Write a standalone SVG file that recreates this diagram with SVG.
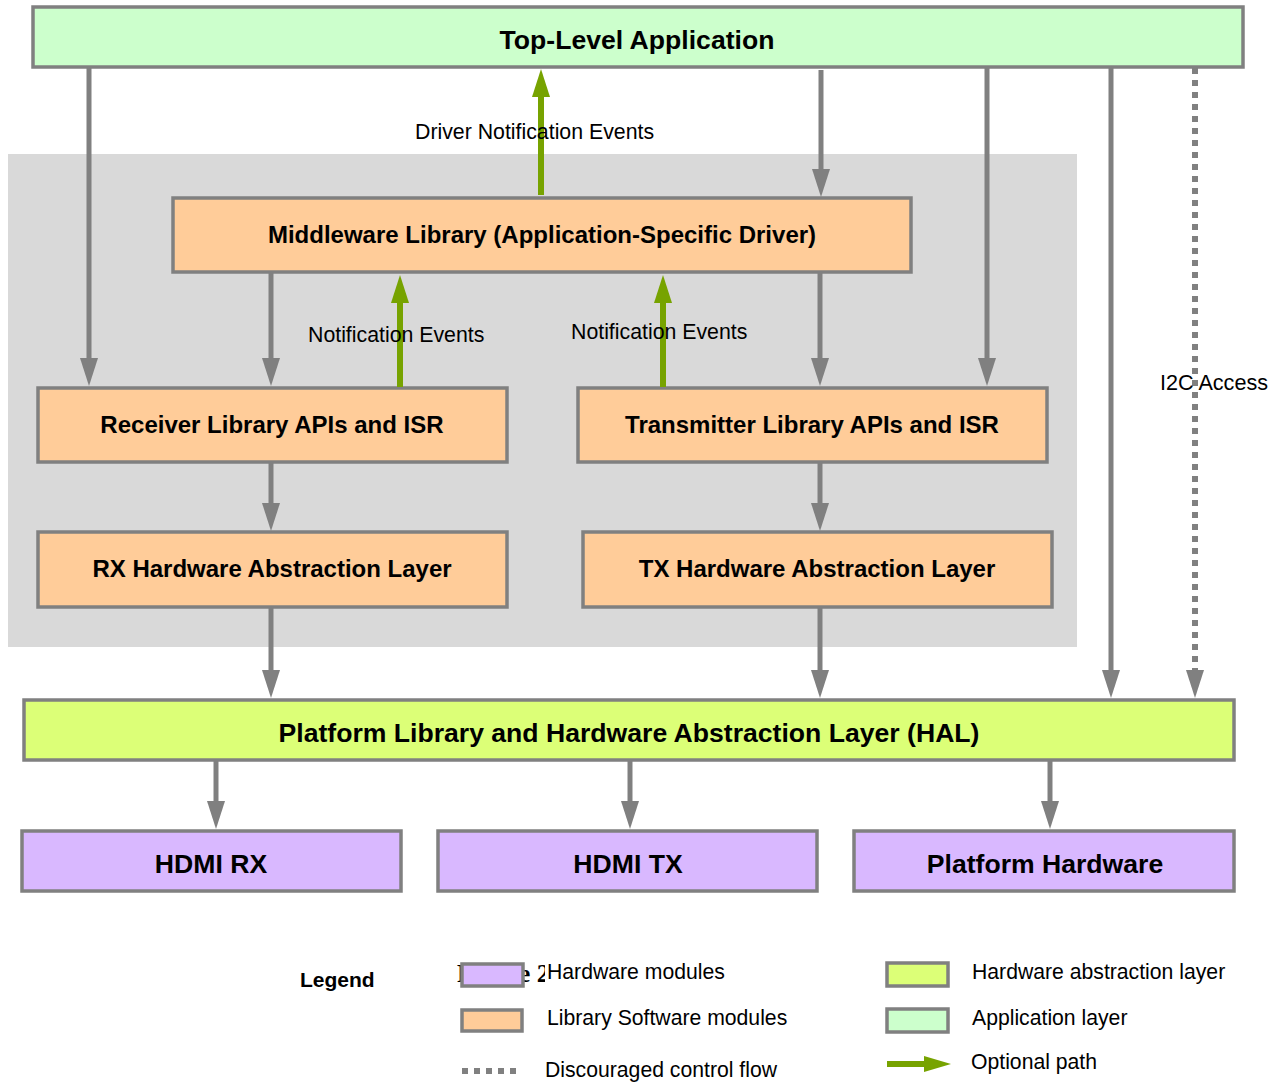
<svg xmlns="http://www.w3.org/2000/svg" width="1279" height="1084" viewBox="0 0 1279 1084">
<defs>
<style>
.box{stroke:#808080;stroke-width:3.5}
.app{fill:#ccffcc}
.lib{fill:#ffcc99}
.hal{fill:#dcff77}
.hw{fill:#d9b8ff}
.t{font-family:"Liberation Sans",Arial,sans-serif;fill:#000}
.b{font-weight:bold;text-anchor:middle}
.c{stroke:#808080;stroke-width:5;fill:none}
.g{stroke:#77a300;stroke-width:6;fill:none}
.d{stroke:#808080;stroke-width:6;fill:none;stroke-dasharray:6 6}
</style>
<marker id="ag" markerUnits="userSpaceOnUse" viewBox="0 0 28 18" markerWidth="28" markerHeight="18" refX="1" refY="9" orient="auto"><path d="M0,0 L28,9 L0,18 z" fill="#808080"/></marker>
<marker id="agr" markerUnits="userSpaceOnUse" viewBox="0 0 28 18" markerWidth="28" markerHeight="18" refX="1" refY="9" orient="auto"><path d="M0,0 L28,9 L0,18 z" fill="#77a300"/></marker>
</defs>
<rect x="0" y="0" width="1279" height="1084" fill="#ffffff"/>
<rect id="software-area" x="8" y="154" width="1069" height="493" fill="#d9d9d9"/>

<g id="top-app"><rect class="box app" x="33" y="7" width="1210" height="60"/><text class="t b" x="637" y="49" font-size="26.6">Top-Level Application</text></g>
<g id="middleware"><rect class="box lib" x="173" y="198" width="738" height="74"/><text class="t b" x="542" y="243" font-size="24">Middleware Library (Application-Specific Driver)</text></g>
<g id="receiver"><rect class="box lib" x="38" y="388" width="469" height="74"/><text class="t b" x="272" y="433" font-size="24">Receiver Library APIs and ISR</text></g>
<g id="transmitter"><rect class="box lib" x="578" y="388" width="469" height="74"/><text class="t b" x="812" y="433" font-size="24">Transmitter Library APIs and ISR</text></g>
<g id="rx-hal"><rect class="box lib" x="38" y="532" width="469" height="75"/><text class="t b" x="272" y="577" font-size="24">RX Hardware Abstraction Layer</text></g>
<g id="tx-hal"><rect class="box lib" x="583" y="532" width="469" height="75"/><text class="t b" x="817" y="577" font-size="24">TX Hardware Abstraction Layer</text></g>
<g id="platform-hal"><rect class="box hal" x="24" y="700" width="1210" height="60"/><text class="t b" x="629" y="742" font-size="26.6">Platform Library and Hardware Abstraction Layer (HAL)</text></g>
<g id="hdmi-rx"><rect class="box hw" x="22" y="831" width="379" height="60"/><text class="t b" x="211" y="873" font-size="26.6">HDMI RX</text></g>
<g id="hdmi-tx"><rect class="box hw" x="438" y="831" width="379" height="60"/><text class="t b" x="628" y="873" font-size="26.6">HDMI TX</text></g>
<g id="platform-hw"><rect class="box hw" x="854" y="831" width="380" height="60"/><text class="t b" x="1045" y="873" font-size="26.6">Platform Hardware</text></g>

<g id="connectors">
<line class="c" x1="89" y1="68" x2="89" y2="359" marker-end="url(#ag)"/>
<line class="c" x1="271" y1="273" x2="271" y2="359" marker-end="url(#ag)"/>
<line class="c" x1="271" y1="463" x2="271" y2="504" marker-end="url(#ag)"/>
<line class="c" x1="271" y1="608" x2="271" y2="671" marker-end="url(#ag)"/>
<line class="c" x1="821" y1="70" x2="821" y2="170" marker-end="url(#ag)"/>
<line class="c" x1="820" y1="273" x2="820" y2="359" marker-end="url(#ag)"/>
<line class="c" x1="987" y1="68" x2="987" y2="359" marker-end="url(#ag)"/>
<line class="c" x1="820" y1="463" x2="820" y2="504" marker-end="url(#ag)"/>
<line class="c" x1="820" y1="608" x2="820" y2="671" marker-end="url(#ag)"/>
<line class="c" x1="1111" y1="68" x2="1111" y2="671" marker-end="url(#ag)"/>
<line class="d" x1="1195" y1="68" x2="1195" y2="671" marker-end="url(#ag)"/>
<line class="c" x1="216" y1="761" x2="216" y2="802" marker-end="url(#ag)"/>
<line class="c" x1="630" y1="761" x2="630" y2="802" marker-end="url(#ag)"/>
<line class="c" x1="1050" y1="761" x2="1050" y2="802" marker-end="url(#ag)"/>
<line class="g" x1="541" y1="195" x2="541" y2="96" marker-end="url(#agr)"/>
<line class="g" x1="400" y1="387" x2="400" y2="302" marker-end="url(#agr)"/>
<line class="g" x1="663" y1="387" x2="663" y2="302" marker-end="url(#agr)"/>
</g>

<g id="labels">
<text class="t" x="415" y="139" font-size="21.3">Driver Notification Events</text>
<text class="t" x="308" y="342" font-size="21.3">Notification Events</text>
<text class="t" x="571" y="339" font-size="21.3">Notification Events</text>
<text class="t" x="1160" y="390" font-size="21.6">I2C Access</text>
</g>

<g id="legend">
<text class="t" x="300" y="987" font-size="21" font-weight="bold">Legend</text>
<text x="457" y="982" font-size="26" font-weight="bold" font-family="Liberation Serif,serif">Figure 2</text>
<rect x="545" y="958" width="190" height="30" fill="#ffffff"/>
<rect class="box hw" x="462" y="964" width="61" height="22"/>
<text class="t" x="547" y="979" font-size="21.2">Hardware modules</text>
<rect class="box lib" x="462" y="1010" width="60" height="21"/>
<text class="t" x="547" y="1025" font-size="21.2">Library Software modules</text>
<line class="d" x1="462" y1="1071" x2="520" y2="1071" stroke-width="4" stroke-dasharray="5 5"/>
<text class="t" x="545" y="1077" font-size="21.2">Discouraged control flow</text>
<rect class="box hal" x="887" y="963" width="61" height="23"/>
<text class="t" x="972" y="979" font-size="21.2">Hardware abstraction layer</text>
<rect class="box app" x="887" y="1009" width="61" height="23"/>
<text class="t" x="972" y="1025" font-size="21.2">Application layer</text>
<line x1="887" y1="1064" x2="925" y2="1064" stroke="#77a300" stroke-width="6"/>
<path d="M924,1056 L951,1064 L924,1072 z" fill="#77a300"/>
<text class="t" x="971" y="1069" font-size="21.2">Optional path</text>
</g>
</svg>
